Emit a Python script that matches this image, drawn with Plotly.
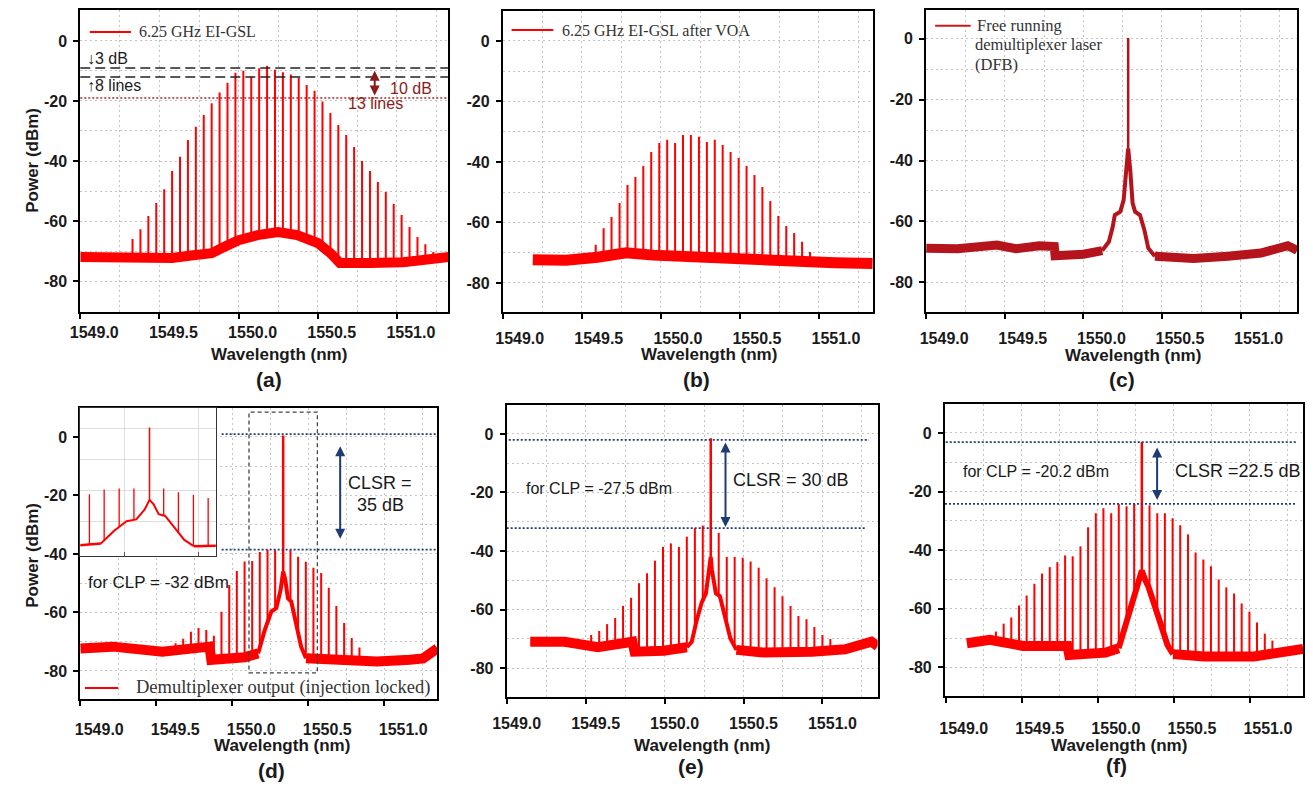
import numpy as np
import plotly.graph_objects as go

W, H = 1313, 786

# ---------------- data ----------------
x_tick_vals = [1549.0, 1549.5, 1550.0, 1550.5, 1551.0]
y_tick_vals = [-80, -60, -40, -20, 0]
y_tick_text = ["-80", "-60", "-40", "-20", "0"]

# (a) 6.25 GHz EI-GSL
a_comb_wl = [1549.33, 1549.38, 1549.43, 1549.48, 1549.53, 1549.58, 1549.63, 1549.68, 1549.73, 1549.78,
             1549.83, 1549.88, 1549.93, 1549.98, 1550.03, 1550.08, 1550.13, 1550.18, 1550.23, 1550.28,
             1550.33, 1550.38, 1550.43, 1550.48, 1550.53, 1550.58, 1550.63, 1550.68, 1550.73, 1550.78,
             1550.83, 1550.88, 1550.93, 1550.98, 1551.03, 1551.08, 1551.13, 1551.18, 1551.23]
a_comb_pk = [-66.0, -62.7, -58.3, -54.0, -49.4, -43.3, -38.6, -33.0, -28.6, -24.7,
             -20.8, -17.2, -13.9, -10.6, -9.9, -11.9, -9.1, -8.3, -9.6, -10.4,
             -11.2, -12.3, -14.7, -16.6, -20.2, -24.0, -28.0, -31.3, -35.3, -40.0,
             -43.3, -47.0, -50.3, -54.3, -58.0, -62.0, -65.3, -67.7, -70.3]
a_floor_wl = [1549.00, 1549.27, 1549.58, 1549.70, 1549.83, 1549.91, 1550.00, 1550.12, 1550.25,
              1550.37, 1550.50, 1550.58, 1550.64, 1550.83, 1551.04, 1551.33]
a_floor_p = [-72.0, -72.3, -72.3, -71.5, -70.7, -68.6, -66.4, -64.7, -63.7,
             -64.7, -67.3, -70.7, -74.0, -74.0, -73.7, -72.0]

# (b) after VOA
b_comb_wl = [1549.588, 1549.638, 1549.688, 1549.739, 1549.789, 1549.839, 1549.889, 1549.939, 1549.990,
             1550.040, 1550.090, 1550.140, 1550.190, 1550.241, 1550.291, 1550.341, 1550.391, 1550.441,
             1550.492, 1550.542, 1550.592, 1550.642, 1550.692, 1550.743, 1550.793, 1550.843, 1550.893,
             1550.943]
b_comb_pk = [-67.4, -61.9, -58.2, -53.6, -47.6, -45.0, -41.3, -36.7, -33.7, -32.7, -33.7, -31.1, -31.1,
             -31.7, -33.4, -32.7, -34.4, -36.7, -38.7, -41.3, -44.3, -48.3, -52.9, -57.9, -61.2, -63.5,
             -66.4, -69.8]
b_floor_wl = [1549.19, 1549.40, 1549.60, 1549.78, 1549.95, 1550.20, 1550.50, 1550.80, 1551.10, 1551.34]
b_floor_p = [-72.3, -72.5, -71.5, -70.0, -70.8, -71.5, -72.3, -72.8, -73.3, -73.6]

# (c) free running DFB
c_floor_left_wl = [1549.00, 1549.20, 1549.45, 1549.57, 1549.72, 1549.815, 1549.82, 1550.00, 1550.12]
c_floor_left_p = [-68.8, -69.0, -67.8, -69.0, -68.0, -68.3, -71.3, -70.8, -69.6]
c_ped_wl = [1550.12, 1550.162, 1550.187, 1550.20, 1550.235, 1550.256, 1550.273, 1550.285,
            1550.298, 1550.313, 1550.329, 1550.36, 1550.388, 1550.413, 1550.455]
c_ped_p = [-69.6, -66.7, -61.7, -57.9, -56.8, -53.0, -43.0, -36.0,
           -43.0, -54.0, -56.8, -57.9, -62.8, -68.8, -71.5]
c_floor_right_wl = [1550.455, 1550.70, 1550.92, 1551.13, 1551.30, 1551.36]
c_floor_right_p = [-71.5, -72.2, -71.5, -70.4, -68.0, -69.5]
c_peak_wl, c_peak_p = 1550.285, 0.3

# (d) demultiplexer output, CLP = -32 dBm
d_comb_wl = [1549.627, 1549.677, 1549.728, 1549.778, 1549.829, 1549.879, 1549.929, 1549.980, 1550.030,
             1550.081, 1550.131, 1550.181, 1550.232, 1550.282, 1550.383, 1550.433, 1550.484, 1550.534,
             1550.585, 1550.635, 1550.685, 1550.736, 1550.786, 1550.837]
d_comb_pk = [-70.5, -69.0, -66.6, -65.3, -66.0, -68.0, -59.8, -50.6, -45.8, -42.6, -42.4, -39.3, -38.6,
             -38.6, -38.6, -41.0, -42.7, -44.7, -46.5, -51.6, -57.8, -63.6, -68.7, -72.0]
d_floor_left_wl = [1549.00, 1549.215, 1549.54, 1549.69, 1549.85, 1549.862, 1550.083, 1550.17]
d_floor_left_p = [-72.3, -71.7, -73.4, -72.8, -71.7, -76.2, -75.3, -74.0]
d_ped_wl = [1550.17, 1550.214, 1550.257, 1550.29, 1550.318, 1550.335, 1550.349, 1550.366, 1550.388,
            1550.42, 1550.453, 1550.485]
d_ped_p = [-74.0, -66.0, -59.7, -58.5, -52.3, -46.0, -48.9, -55.2, -56.3, -63.7, -71.7, -75.7]
d_floor_right_wl = [1550.485, 1550.735, 1550.952, 1551.17, 1551.256, 1551.35]
d_floor_right_p = [-75.7, -76.2, -76.8, -76.2, -75.7, -72.3]
d_peak_wl, d_peak_p = 1550.335, 0.5

# (e) CLP = -27.5 dBm
e_comb_wl = [1549.535, 1549.586, 1549.636, 1549.687, 1549.737, 1549.788, 1549.838, 1549.889, 1549.939,
             1549.990, 1550.040, 1550.091, 1550.141, 1550.192, 1550.242, 1550.343, 1550.394, 1550.444,
             1550.495, 1550.545, 1550.596, 1550.646, 1550.697, 1550.747, 1550.798, 1550.848, 1550.899,
             1550.949, 1551.000, 1551.050]
e_comb_pk = [-68.7, -67.3, -65.0, -62.9, -58.8, -56.0, -51.0, -47.6, -43.3, -38.6, -37.4, -38.6, -35.1,
             -32.2, -31.3, -33.8, -42.0, -42.0, -42.3, -43.6, -45.7, -49.3, -52.4, -55.5, -58.8, -62.2,
             -63.3, -66.0, -68.7, -70.1]
e_floor_left_wl = [1549.149, 1549.368, 1549.577, 1549.796, 1549.81, 1549.995, 1550.141]
e_floor_left_p = [-71.0, -71.0, -72.9, -71.0, -74.4, -74.1, -72.9]
e_ped_wl = [1550.141, 1550.172, 1550.204, 1550.235, 1550.262, 1550.283, 1550.2925, 1550.30, 1550.325,
            1550.35, 1550.38, 1550.417, 1550.455]
e_ped_p = [-72.9, -71.0, -63.6, -57.7, -54.5, -45.4, -42.0, -46.5, -54.5, -55.4, -62.5, -69.9, -73.8]
e_floor_right_wl = [1550.455, 1550.622, 1550.935, 1551.144, 1551.31, 1551.35]
e_floor_right_p = [-73.8, -74.7, -74.4, -73.6, -71.0, -72.5]
e_peak_wl, e_peak_p = 1550.2925, -1.5

# (f) CLP = -20.2 dBm
f_comb_wl = [1549.330, 1549.381, 1549.431, 1549.482, 1549.532, 1549.583, 1549.633, 1549.684, 1549.734,
             1549.785, 1549.835, 1549.886, 1549.936, 1549.987, 1550.037, 1550.088, 1550.138, 1550.189,
             1550.239, 1550.340, 1550.391, 1550.441, 1550.492, 1550.542, 1550.593, 1550.643, 1550.694,
             1550.744, 1550.795, 1550.845, 1550.896, 1550.946, 1550.997, 1551.047, 1551.098, 1551.148]
f_comb_pk = [-67.8, -65.1, -63.0, -58.9, -55.5, -51.5, -48.0, -45.8, -44.1, -41.8, -42.1, -38.7, -32.2,
             -27.4, -25.7, -27.4, -24.3, -25.0, -24.3, -24.7, -27.4, -27.4, -29.1, -31.5, -34.6, -40.8,
             -43.2, -45.5, -50.0, -52.7, -54.8, -58.2, -61.0, -64.7, -68.5, -70.9]
f_floor_left_wl = [1549.139, 1549.29, 1549.508, 1549.80, 1549.812, 1550.05, 1550.137]
f_floor_left_p = [-71.8, -70.6, -72.7, -72.7, -75.8, -75.0, -73.5]
f_ped_wl = [1550.137, 1550.18, 1550.213, 1550.245, 1550.268, 1550.285, 1550.2895, 1550.307, 1550.333,
            1550.376, 1550.415, 1550.458, 1550.495]
f_ped_p = [-73.5, -66.1, -59.3, -54.2, -50.2, -48.5, -47.0, -49.6, -52.5, -59.3, -66.1, -72.4, -75.5]
f_floor_right_wl = [1550.495, 1550.70, 1551.027, 1551.20, 1551.35]
f_floor_right_p = [-75.5, -76.3, -76.3, -74.6, -73.7]
f_peak_wl, f_peak_p = 1550.2895, -3.1

# ---------------- styling ----------------
RED = "#FF0000"
DFB = "#B5141C"
DKRED = "#8B1A1A"
NAVY = "#1F3B73"
GRID = "#c4c4c4"
SANS = "Liberation Sans, Arial, DejaVu Sans"
SERIF = "Liberation Serif, Times New Roman, DejaVu Serif"
TXT = "#1a1a1a"

# panels: pixel box (left, top, right, bottom), x range, y range, label shift, label standoff
panels = [
    dict(box=(67, 10, 439, 312), xr=[1549.0, 1551.325], yr=[-90.3, 10.3], shift=14, stand=0),
    dict(box=(494, 11, 868, 312), xr=[1549.0, 1551.34], yr=[-89.6, 9.9], shift=17, stand=6),
    dict(box=(922, 10, 1297, 312), xr=[1549.0, 1551.36], yr=[-89.8, 9.5], shift=18, stand=6),
    dict(box=(67, 408, 428, 699), xr=[1549.0, 1551.35], yr=[-89.6, 9.9], shift=19, stand=10),
    dict(box=(498, 405, 873, 697), xr=[1549.0, 1551.35], yr=[-89.9, 9.9], shift=10, stand=6),
    dict(box=(941, 404, 1303, 696), xr=[1548.995, 1551.35], yr=[-89.8, 9.9], shift=18, stand=12),
]
inset = dict(box=(67, 408, 204, 556), xr=[1550.10, 1550.56], yr=[-82, 13])


def dom(box):
    l, t, r, b = box
    return [l / W, r / W], [1 - b / H, 1 - t / H]


fig = go.Figure()


def ax_ids(i):
    s = "" if i == 1 else str(i)
    return "x" + s, "y" + s


def add_line(xs, ys, color, width, i):
    xa, ya = ax_ids(i)
    fig.add_trace(go.Scatter(x=xs, y=ys, mode="lines", line=dict(color=color, width=width),
                             xaxis=xa, yaxis=ya, hoverinfo="skip", showlegend=False))


def add_spikes(wl, pk, base_wl, base_p, color, width, i):
    base = np.interp(wl, base_wl, base_p)
    xs, ys = [], []
    for w, p, b in zip(wl, pk, base):
        xs += [w, w, None]
        ys += [b, p, None]
    add_line(xs, ys, color, width, i)


def draw_spectrum(i, comb_wl, comb_pk, segs, peak, color, fw, pw, sw, mw):
    left, ped, right = segs
    add_line(left[0], left[1], color, fw, i)
    add_line(right[0], right[1], color, fw, i)
    add_line(ped[0], ped[1], color, pw, i)
    full_wl = list(left[0]) + list(ped[0][1:]) + list(right[0][1:])
    full_p = list(left[1]) + list(ped[1][1:]) + list(right[1][1:])
    if comb_wl:
        add_spikes(comb_wl, comb_pk, full_wl, full_p, color, sw, i)
    if peak:
        add_spikes([peak[0]], [peak[1]], ped[0], ped[1], color, mw, i)


# (a)
add_line(a_floor_wl, a_floor_p, RED, 10, 1)
add_spikes(a_comb_wl, a_comb_pk, a_floor_wl, a_floor_p, RED, 2, 1)
# (b)
add_line(b_floor_wl, b_floor_p, RED, 11, 2)
add_spikes(b_comb_wl, b_comb_pk, b_floor_wl, b_floor_p, RED, 2, 2)
# (c)
draw_spectrum(3, [], [], ((c_floor_left_wl, c_floor_left_p), (c_ped_wl, c_ped_p),
                          (c_floor_right_wl, c_floor_right_p)),
              (c_peak_wl, c_peak_p), DFB, 9, 4, 2, 2.5)
# (d)
d_segs = ((d_floor_left_wl, d_floor_left_p), (d_ped_wl, d_ped_p), (d_floor_right_wl, d_floor_right_p))
draw_spectrum(4, d_comb_wl, d_comb_pk, d_segs, (d_peak_wl, d_peak_p), RED, 10, 4, 2, 2.5)
# (e)
draw_spectrum(5, e_comb_wl, e_comb_pk, ((e_floor_left_wl, e_floor_left_p), (e_ped_wl, e_ped_p),
                                        (e_floor_right_wl, e_floor_right_p)),
              (e_peak_wl, e_peak_p), RED, 10, 4, 2, 2.5)
# (f)
draw_spectrum(6, f_comb_wl, f_comb_pk, ((f_floor_left_wl, f_floor_left_p), (f_ped_wl, f_ped_p),
                                        (f_floor_right_wl, f_floor_right_p)),
              (f_peak_wl, f_peak_p), RED, 10, 6, 2, 2.5)
# inset of (d)
draw_spectrum(7, d_comb_wl, d_comb_pk, d_segs, (d_peak_wl, d_peak_p), RED, 2.5, 2, 1.3, 1.5)

# ---------------- layout ----------------
tickfont = dict(family=SANS, size=16, color=TXT, weight="bold")
layout = dict(width=W, height=H, margin=dict(l=0, r=0, t=0, b=0), paper_bgcolor="white",
              plot_bgcolor="white", showlegend=False)

for i, p in enumerate(panels, start=1):
    xd, yd = dom(p["box"])
    s = "" if i == 1 else str(i)
    layout["xaxis" + s] = dict(
        domain=xd, range=p["xr"], anchor="y" + s, showline=True, linecolor="black", linewidth=2,
        mirror=True, ticks="outside", ticklen=5, tickwidth=1.5, tickcolor="black",
        tickmode="array", tickvals=x_tick_vals, tickformat=".1f",
        showgrid=True, gridcolor=GRID, griddash="2px,3px", gridwidth=1, zeroline=False,
        minor=dict(tickmode="linear", tick0=1549.0, dtick=0.25, showgrid=True, gridcolor=GRID,
                   griddash="2px,3px", gridwidth=1, ticks=""),
        tickfont=tickfont, ticklabelshift=p["shift"], ticklabelstandoff=p["stand"], fixedrange=True)
    layout["yaxis" + s] = dict(
        domain=yd, range=p["yr"], anchor="x" + s, showline=True, linecolor="black", linewidth=2,
        mirror=True, ticks="outside", ticklen=5, tickwidth=1.5, tickcolor="black",
        tickmode="array", tickvals=y_tick_vals, ticktext=y_tick_text,
        showgrid=True, gridcolor=GRID, griddash="2px,3px", gridwidth=1, zeroline=False,
        minor=dict(tickmode="linear", tick0=0, dtick=10, showgrid=True, gridcolor=GRID,
                   griddash="2px,3px", gridwidth=1, ticks=""),
        tickfont=tickfont, ticklabelstandoff=3, fixedrange=True)

xd, yd = dom(inset["box"])
layout["xaxis7"] = dict(domain=xd, range=inset["xr"], anchor="y7", showline=True, linecolor="#333",
                        linewidth=1, mirror=True, ticks="inside", ticklen=4, tickcolor="#555",
                        tickmode="array", tickvals=[1550.25, 1550.5], showticklabels=False,
                        showgrid=True, gridcolor="#dddddd", gridwidth=1, zeroline=False,
                        fixedrange=True)
layout["yaxis7"] = dict(domain=yd, range=inset["yr"], anchor="x7", showline=True, linecolor="#333",
                        linewidth=1, mirror=True, ticks="", tickmode="array",
                        tickvals=[-60, -40, -20, 0], showticklabels=False,
                        showgrid=True, gridcolor="#dddddd", gridwidth=1, zeroline=False,
                        fixedrange=True)

shapes = []
annots = []


def hline(i, y, x0, x1, color, dash, width):
    xa, ya = ax_ids(i)
    shapes.append(dict(type="line", xref=xa, yref=ya, x0=x0, x1=x1, y0=y, y1=y,
                       line=dict(color=color, dash=dash, width=width)))


def full_hline(i, y, color, dash, width):
    xa, ya = ax_ids(i)
    shapes.append(dict(type="line", xref=xa + " domain", yref=ya, x0=0, x1=1, y0=y, y1=y,
                       line=dict(color=color, dash=dash, width=width)))


def text(i, x, y, s, size, color=TXT, family=SANS, xanchor="center"):
    xa, ya = ax_ids(i)
    annots.append(dict(xref=xa, yref=ya, x=x, y=y, text=s, showarrow=False, xanchor=xanchor,
                       yanchor="middle", font=dict(family=family, size=size, color=color)))


def darrow(i, x, y0, y1, color):
    xa, ya = ax_ids(i)
    annots.append(dict(xref=xa, yref=ya, x=x, y=y1, ax=x, ay=y0, axref=xa, ayref=ya, text="",
                       showarrow=True, arrowhead=2, arrowside="end+start", arrowsize=1,
                       arrowwidth=2, arrowcolor=color))


def ptext(px, py, s, size, angle=0):
    annots.append(dict(xref="paper", yref="paper", x=px / W, y=1 - py / H, text=s, showarrow=False,
                       xanchor="center", yanchor="middle", textangle=angle,
                       font=dict(family=SANS, size=size, color=TXT, weight="bold")))


# white background behind the inset (drawn in the inset's own subplot layer)
shapes.append(dict(type="rect", xref="x7", yref="y7", x0=inset["xr"][0], x1=inset["xr"][1],
                   y0=inset["yr"][0], y1=inset["yr"][1], fillcolor="white",
                   line=dict(width=0), layer="below"))

# (a) annotations
full_hline(1, -9.0, "#222", "10px,5px", 1.5)
full_hline(1, -12.0, "#222", "10px,5px", 1.5)
full_hline(1, -19.0, "#A52A2A", "2px,2px", 1.5)
darrow(1, 1550.86, -9.4, -18.2, DKRED)
text(1, 1549.03, -6.0, "↓3 dB", 16, xanchor="left")
text(1, 1549.03, -14.7, "↑8 lines", 16, xanchor="left")
text(1, 1551.09, -15.8, "10 dB", 16, color=DKRED)
text(1, 1550.866, -20.8, "13 lines", 16, color=DKRED)
hline(1, 3.0, 1549.06, 1549.32, RED, "solid", 2)
text(1, 1549.36, 3.0, "6.25 GHz EI-GSL", 16, color="#333", family=SERIF, xanchor="left")

# (b)
hline(2, 3.6, 1549.056, 1549.32, RED, "solid", 2)
text(2, 1549.36, 3.6, "6.25 GHz EI-GSL after VOA", 16, color="#333", family=SERIF, xanchor="left")

# (c)
hline(3, 4.3, 1549.057, 1549.283, "#D01818", "solid", 2)
text(3, 1549.31, 4.3, "Free running", 16.5, color="#333", family=SERIF, xanchor="left")
text(3, 1549.30, -2.0, "demultiplexer laser", 16.5, color="#333", family=SERIF, xanchor="left")
text(3, 1549.30, -8.5, "(DFB)", 16.5, color="#333", family=SERIF, xanchor="left")

# (d)
shapes.append(dict(type="rect", xref="x4", yref="y4", x0=1550.11, x1=1550.56, y0=-80.7, y1=8.5,
                   line=dict(color="#444", dash="4px,3px", width=1.3)))
hline(4, 1.0, 1549.93, 1551.35, NAVY, "2px,2px", 1.8)
hline(4, -38.5, 1549.93, 1551.35, NAVY, "2px,2px", 1.8)
darrow(4, 1550.71, -2.7, -34.8, NAVY)
text(4, 1550.974, -15.9, "CLSR =", 18)
text(4, 1550.974, -23.2, "35 dB", 18)
text(4, 1549.04, -49.7, "for CLP = -32 dBm", 17, xanchor="left")
hline(4, -85.8, 1549.03, 1549.25, RED, "solid", 2)
text(4, 1549.356, -85.8, "Demultiplexer output (injection locked)", 18.5, color="#333",
     family=SERIF, xanchor="left")

# (e)
hline(5, -2.0, 1549.013, 1551.295, NAVY, "2px,2px", 1.8)
hline(5, -32.2, 1549.0, 1551.28, NAVY, "2px,2px", 1.8)
darrow(5, 1550.386, -2.4, -31.8, NAVY)
text(5, 1550.80, -15.7, "CLSR = 30 dB", 18)
text(5, 1549.107, -18.5, "for CLP = -27.5 dBm", 16, xanchor="left")

# (f)
hline(6, -3.1, 1549.0, 1551.31, NAVY, "2px,2px", 1.8)
hline(6, -24.2, 1548.995, 1551.31, NAVY, "2px,2px", 1.8)
darrow(6, 1550.39, -4.4, -22.9, NAVY)
text(6, 1549.098, -13.0, "for CLP = -20.2 dBm", 16, xanchor="left")
text(6, 1550.495, -13.0, "CLSR =22.5 dB", 18, xanchor="left")

# axis titles and panel labels
for (px, py) in [(268, 355), (702, 355), (1131, 356), (271, 745), (695, 745), (1117, 745)]:
    ptext(px, py, "Wavelength (nm)", 17)
for (px, py) in [(18, 160), (18, 555)]:
    ptext(px, py, "Power (dBm)", 17, angle=-90)
for (px, py, s) in [(258, 379, "(a)"), (690, 379, "(b)"), (1120, 379, "(c)"),
                    (260, 770, "(d)"), (684, 766, "(e)"), (1114, 765, "(f)")]:
    ptext(px, py, s, 21)

layout["shapes"] = shapes
layout["annotations"] = annots
fig.update_layout(**layout)
fig.write_html("out.html", config={"displayModeBar": False},
               post_script="document.body.style.margin='0';document.body.style.padding='0';")
